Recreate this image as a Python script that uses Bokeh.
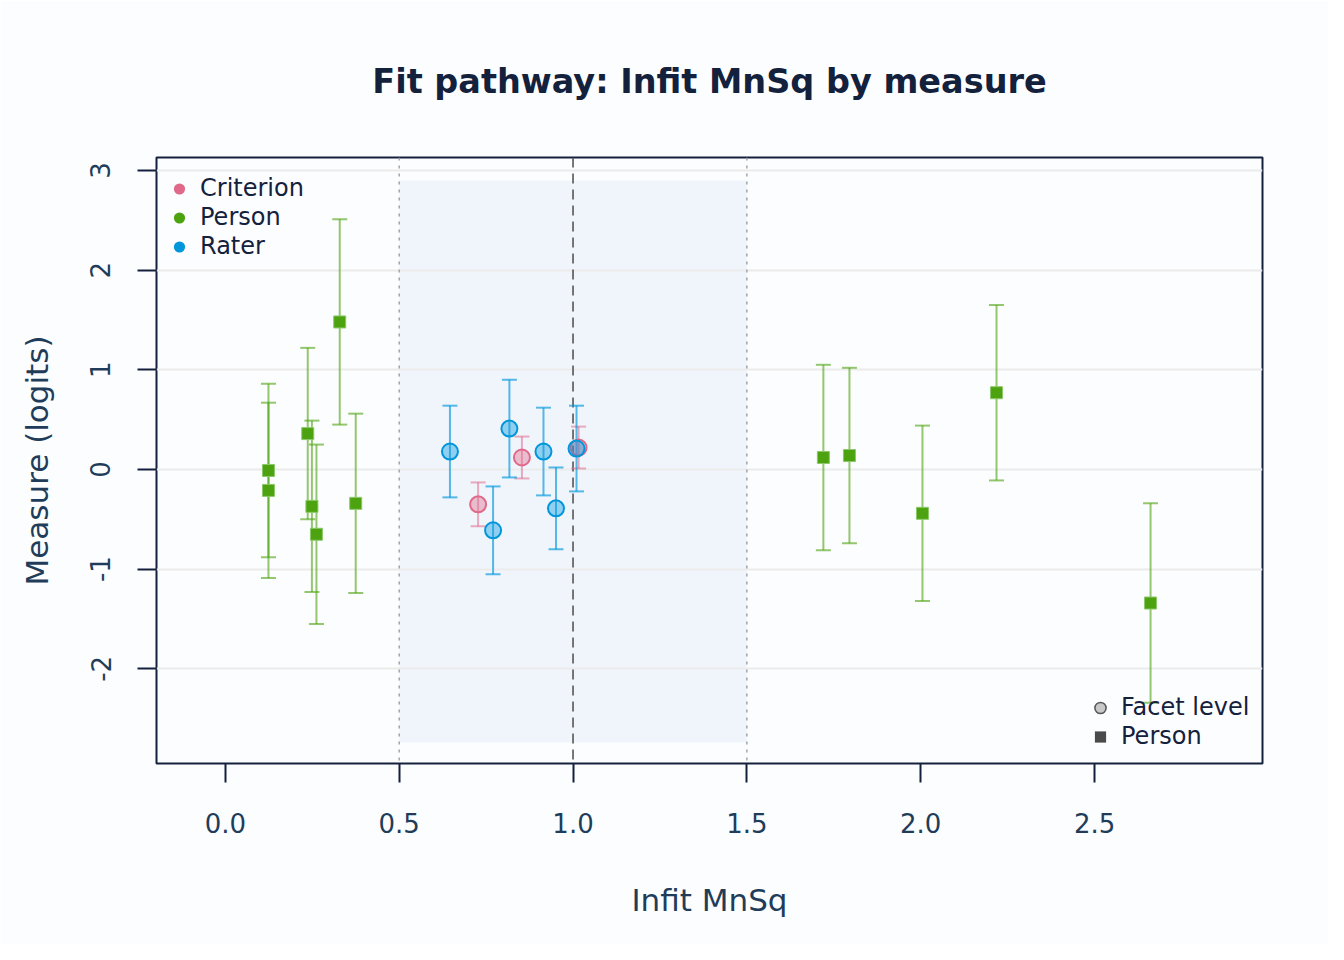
from bokeh.plotting import figure
from bokeh.models import (ColumnDataSource, Whisker, TeeHead, FixedTicker, Legend,
                          LegendItem, Span, Title)
from bokeh.embed import file_html
from bokeh.resources import INLINE

# ---------------- data ----------------
person_infit = [0.124, 0.124, 0.237, 0.249, 0.262, 0.329, 0.375,
                1.720, 1.795, 2.005, 2.218, 2.661]
person_measure = [-0.01, -0.21, 0.36, -0.37, -0.65, 1.48, -0.34,
                  0.12, 0.14, -0.44, 0.77, -1.34]
person_se = [0.87, 0.88, 0.86, 0.86, 0.90, 1.03, 0.90,
             0.93, 0.88, 0.88, 0.88, 1.00]

rater_infit = [0.646, 0.770, 0.817, 0.915, 0.951, 1.010]
rater_measure = [0.18, -0.61, 0.41, 0.18, -0.39, 0.21]
rater_se = [0.46, 0.44, 0.49, 0.44, 0.41, 0.43]

criterion_infit = [0.727, 0.853, 1.016]
criterion_measure = [-0.35, 0.12, 0.22]
criterion_se = [0.22, 0.21, 0.21]

band_x = [0.5, 1.5]
band_y = [-2.74, 2.90]
ref_line = 1.0

x_ticks = [0.0, 0.5, 1.0, 1.5, 2.0, 2.5]
x_tick_labels = ["0.0", "0.5", "1.0", "1.5", "2.0", "2.5"]
y_ticks = [-2, -1, 0, 1, 2, 3]
y_tick_labels = ["-2", "-1", "0", "1", "2", "3"]

facet_names = ["Criterion", "Person", "Rater"]
shape_names = ["Facet level", "Person"]
title_text = "Fit pathway: Infit MnSq by measure"

# ---------------- colours ----------------
BG = "#FCFDFE"
NAVY = "#14213D"
SLATE = "#1F3D5A"
C_CRIT = "#E0698A"
C_PERS = "#4DA30F"
C_RATER = "#0096DB"


def src(xs, ys, ses):
    return ColumnDataSource(dict(x=xs, y=ys,
                                 lo=[a - b for a, b in zip(ys, ses)],
                                 hi=[a + b for a, b in zip(ys, ses)]))


p = figure(width=1328, height=944, x_range=(-0.198, 2.983), y_range=(-2.95, 3.13),
           output_backend="svg", toolbar_location=None,
           min_border_left=156, min_border_right=66, min_border_top=157,
           min_border_bottom=181)
p.background_fill_color = BG
p.border_fill_color = BG
p.outline_line_color = NAVY
p.outline_line_width = 2

p.add_layout(Title(text=title_text, align="center",
                   text_font="DejaVu Sans", text_font_size="33.5px",
                   text_font_style="bold", text_color=NAVY, standoff=114), "above")

# grid
p.xgrid.visible = False
p.ygrid.ticker = FixedTicker(ticks=y_ticks)
p.ygrid.grid_line_color = "#EBEBEB"
p.ygrid.grid_line_width = 2

# band
p.quad(left=[band_x[0]], right=[band_x[1]], bottom=[band_y[0]], top=[band_y[1]],
       fill_color="#F0F5FC", line_color=None, level="underlay")
for xv in band_x:
    p.add_layout(Span(location=xv, dimension="height", line_color="#9AA0A8",
                      line_width=1.4, line_dash="3 5", level="underlay"))
p.add_layout(Span(location=ref_line, dimension="height", line_color="#555555",
                  line_width=1.6, line_dash="10 6", level="underlay"))

# axes
for ax in (p.xaxis[0], p.yaxis[0]):
    ax.axis_line_color = None
    ax.major_tick_line_color = NAVY
    ax.major_tick_line_width = 2
    ax.major_tick_in = 0
    ax.major_tick_out = 19
    ax.minor_tick_line_color = None
    ax.major_label_text_font = "DejaVu Sans"
    ax.major_label_text_font_size = "26px"
    ax.major_label_text_color = SLATE
    ax.axis_label_text_font = "DejaVu Sans"
    ax.axis_label_text_font_size = "31px"
    ax.axis_label_text_font_style = "normal"
    ax.axis_label_text_color = SLATE

p.xaxis.ticker = FixedTicker(ticks=x_ticks)
p.xaxis.major_label_overrides = {t: l for t, l in zip(x_ticks, x_tick_labels)}
p.xaxis.major_label_standoff = 30
p.xaxis.axis_label = "Infit MnSq"
p.xaxis.axis_label_standoff = 46

p.yaxis.ticker = FixedTicker(ticks=y_ticks)
p.yaxis.major_label_overrides = {t: l for t, l in zip(y_ticks, y_tick_labels)}
p.yaxis.major_label_orientation = "vertical"
p.yaxis.major_label_standoff = 27
p.yaxis.axis_label = "Measure (logits)"
p.yaxis.axis_label_standoff = 33

# error bars + points
s_crit = src(criterion_infit, criterion_measure, criterion_se)
s_pers = src(person_infit, person_measure, person_se)
s_rater = src(rater_infit, rater_measure, rater_se)

for s, col, alpha in ((s_crit, C_CRIT, 0.55), (s_pers, C_PERS, 0.6), (s_rater, C_RATER, 0.65)):
    w = Whisker(base="x", lower="lo", upper="hi", source=s, dimension="height",
                line_color=col, line_alpha=alpha, line_width=2,
                upper_head=TeeHead(size=15, line_color=col, line_alpha=alpha, line_width=2),
                lower_head=TeeHead(size=15, line_color=col, line_alpha=alpha, line_width=2))
    p.add_layout(w)

p.scatter("x", "y", source=s_crit, marker="circle", size=16, fill_color=C_CRIT,
          fill_alpha=0.4, line_color=C_CRIT, line_width=2)
p.scatter("x", "y", source=s_pers, marker="square", size=12, fill_color=C_PERS,
          line_color="#8CC86A", line_width=1)
p.scatter("x", "y", source=s_rater, marker="circle", size=16, fill_color=C_RATER,
          fill_alpha=0.4, line_color=C_RATER, line_width=2)

# legend renderers (NaN points so only the legend glyph shows)
NAN = float("nan")


def dummy(marker, fill, line, lw=0):
    return p.scatter(x=[NAN], y=[NAN], marker=marker, fill_color=fill,
                     line_color=line, line_width=lw)


r_c = dummy("circle", C_CRIT, None)
r_p = dummy("circle", C_PERS, None)
r_r = dummy("circle", C_RATER, None)
leg1 = Legend(items=[LegendItem(label=n, renderers=[r], index=0) for n, r in
                     zip(facet_names, (r_c, r_p, r_r))],
              location=(9, 502.5), margin=0, padding=0, spacing=0,
              glyph_width=28, glyph_height=29, label_height=29, label_standoff=7,
              label_text_font="DejaVu Sans", label_text_font_size="24px",
              label_text_color=NAVY, background_fill_alpha=0, border_line_color=None)

r_f = dummy("circle", "#C8C8C8", "#555555", 1.5)
r_s = dummy("square", "#4A4A4A", None)
leg2 = Legend(items=[LegendItem(label=n, renderers=[r], index=0) for n, r in
                     zip(shape_names, (r_f, r_s))],
              location=(930, 12.5), margin=0, padding=0, spacing=0,
              glyph_width=28, glyph_height=29, label_height=29, label_standoff=7,
              label_text_font="DejaVu Sans", label_text_font_size="24px",
              label_text_color=NAVY, background_fill_alpha=0, border_line_color=None)
p.add_layout(leg1, "center")
p.add_layout(leg2, "center")

html = file_html(p, INLINE)
html = html.replace("<body>", '<body style="background:%s">' % BG, 1)
open("out.html", "w").write(html)
